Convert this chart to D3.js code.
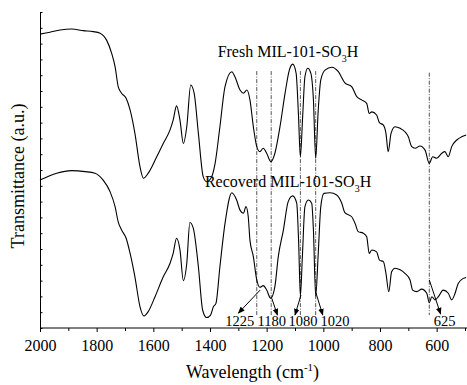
<!DOCTYPE html>
<html>
<head>
<meta charset="utf-8">
<script src="https://cdn.jsdelivr.net/npm/d3@7"></script>
<style>
  body { margin: 0; background: #fff; }
  svg text { font-family: "Liberation Serif", "Times New Roman", serif !important; fill: #000; }
</style>
</head>
<body>
<div class="chart"></div>
<script>
// wavenumber (cm-1) and transmittance (a.u.)
const freshWave = [2000,1965,1929,1888,1847,1812,1788,1765,1747,1735,1724,1712,1696,1682,1665,1647,1635,1618,1588,1565,1541,1530,1518,1506,1494,1482,1468,1456,1441,1424,1412,1394,1382,1365,1347,1323,1312,1294,1282,1270,1259,1247,1235,1224,1212,1200,1185,1171,1153,1135,1120,1108,1096,1088,1081,1073,1065,1055,1044,1035,1027,1018,1009,994,970,947,924,900,882,865,847,838,829,812,802,788,779,771,761,747,729,712,700,688,676,659,641,626,614,600,582,571,559,547,529,512,496]
const freshVal = [93.0,93.6,94.3,94.6,94.1,93.8,93.3,91.1,86.9,82.7,76.4,74.3,72.7,69.0,61.6,51.0,47.4,49.0,54.2,58.4,62.7,65.8,70.3,65.8,58.4,63.7,76.9,74.3,61.6,47.9,46.3,47.9,52.1,63.7,76.4,81.1,79.5,75.3,74.3,75.3,72.2,63.7,57.4,55.8,56.9,55.3,52.6,55.3,63.7,74.3,81.6,83.5,80.6,67.9,54.2,66.9,79.5,82.2,80.6,72.2,53.7,69.0,78.5,81.6,82.5,81.1,77.6,76.4,73.2,72.2,71.1,67.9,68.4,67.4,65.0,64.2,61.6,55.8,61.6,63.7,63.2,62.1,60.5,57.4,56.9,57.6,56.3,52.1,54.2,53.7,55.3,55.8,54.2,57.4,59.5,60.5,61.1]

const recovWave = [2000,1941,1888,1841,1806,1777,1753,1735,1724,1712,1696,1682,1665,1647,1633,1618,1594,1565,1541,1530,1518,1506,1494,1482,1471,1459,1441,1426,1412,1398,1388,1379,1365,1347,1323,1306,1294,1282,1273,1265,1259,1247,1235,1224,1212,1200,1186,1171,1159,1141,1124,1108,1094,1087,1081,1074,1065,1053,1041,1035,1027,1018,1009,998,976,953,935,924,900,888,877,859,847,838,829,812,802,788,779,769,759,747,729,712,694,685,670,653,635,626,617,606,594,577,559,547,535,524,506,496]
const recovVal = [46.8,49.0,49.8,49.5,49.0,46.8,43.2,38.4,33.6,31.0,28.4,23.6,16.2,6.7,3.8,5.2,9.9,16.2,20.5,23.6,28.4,24.7,15.0,20.5,33.4,31.6,19.4,5.7,3.3,4.1,6.7,7.8,19.4,33.1,42.8,40.5,37.3,36.3,38.4,35.2,27.8,22.6,15.2,12.9,13.4,12.0,9.4,13.1,22.6,31.0,40.0,41.8,39.5,26.8,10.1,22.6,38.4,40.5,39.5,31.0,10.1,23.6,38.4,42.6,42.8,42.1,39.5,36.5,35.2,33.1,30.5,30.0,28.9,23.6,24.7,24.1,21.5,21.0,17.3,11.5,17.8,18.9,18.4,17.3,15.2,12.0,11.5,12.3,11.0,8.0,9.9,8.9,9.9,12.0,11.0,8.9,11.0,14.1,15.7,16.0]

// x positions of the dash-dot guide lines and their labels
const peakLines = [1235, 1184, 1081, 1027, 626]
const peakLabels = ["1225", "1180", "1080", "1020", "625"]
const labelWave = [1295, 1182, 1072, 959, 572]
// arrows: [fromWave, fromVal, toWave, toVal]
const arrows = [
  [1223, 12.0, 1300, 4.7],
  [1182, 9.4, 1162, 4.1],
  [1079, 10.4, 1100, 4.1],
  [1026, 11.1, 1002, 4.1],
  [626, 15.2, 586, 4.4]
]
const majorTicks = [2000, 1800, 1600, 1400, 1200, 1000, 800, 600]
const minorTicks = [1900, 1700, 1500, 1300, 1100, 900, 700, 500]
const yTicks = d3.range(0, 101, 5)

const width = 467, height = 385
const margin = { top: 12, right: 2, bottom: 57, left: 40 }
const serif = '"Liberation Serif", "Times New Roman", serif'

const svg = d3.select(".chart").append("svg")
  .attr("width", width)
  .attr("height", height)

const x = d3.scaleLinear().domain([2000, 500]).range([margin.left, 465])
const y = d3.scaleLinear().domain([0, 100]).range([height - margin.bottom, margin.top])

svg.append("defs").append("marker")
  .attr("id", "arrow")
  .attr("viewBox", "0 0 10 10")
  .attr("refX", 9).attr("refY", 5)
  .attr("markerWidth", 7).attr("markerHeight", 7)
  .attr("markerUnits", "userSpaceOnUse")
  .attr("orient", "auto")
  .append("path")
  .attr("d", "M0,1 L10,5 L0,9 z")
  .attr("fill", "#000")

// axes
const xAxis = svg.append("g")
  .attr("transform", "translate(0," + y(0) + ")")
  .call(d3.axisBottom(x).tickValues(majorTicks).tickSize(4).tickSizeOuter(0).tickPadding(8).tickFormat(d3.format("d")))
xAxis.attr("font-family", serif)
xAxis.select(".domain").attr("d", "M" + margin.left + ",0H" + width)
xAxis.selectAll("text").style("font-size", "16px").style("font-family", serif)

svg.append("g")
  .attr("transform", "translate(0," + y(0) + ")")
  .call(d3.axisBottom(x).tickValues(minorTicks).tickSize(3).tickFormat(""))
  .select(".domain").remove()

svg.append("g")
  .attr("transform", "translate(" + margin.left + ",0)")
  .call(d3.axisLeft(y).tickValues(yTicks).tickSize(-2.5).tickSizeOuter(0).tickFormat(""))

svg.selectAll(".domain, .tick line").attr("stroke", "#000").attr("stroke-width", 1)

// guide lines
svg.selectAll(".guide")
  .data(peakLines)
  .enter().append("line")
  .attr("class", "guide")
  .attr("x1", d => x(d)).attr("x2", d => x(d))
  .attr("y1", (d, i) => y(i === 4 ? 80.8 : 81.3))
  .attr("y2", y(4.1))
  .attr("stroke", "#444")
  .attr("stroke-width", 0.9)
  .attr("stroke-dasharray", "4,1.5,1,1.5")

// spectra
const line = d3.line()
  .x(d => x(d[0]))
  .y(d => y(d[1]))
  .curve(d3.curveMonotoneX)

const fresh = freshWave.map((w, i) => [w, freshVal[i]]).reverse()
const recov = recovWave.map((w, i) => [w, recovVal[i]]).reverse()

svg.selectAll(".spectrum")
  .data([fresh, recov])
  .enter().append("path")
  .attr("class", "spectrum")
  .attr("d", line)
  .attr("fill", "none")
  .attr("stroke", "#000")
  .attr("stroke-width", 1.1)

// arrows
svg.selectAll(".arrow")
  .data(arrows)
  .enter().append("line")
  .attr("class", "arrow")
  .attr("x1", d => x(d[0])).attr("y1", d => y(d[1]))
  .attr("x2", d => x(d[2])).attr("y2", d => y(d[3]))
  .attr("stroke", "#000")
  .attr("stroke-width", 1)
  .attr("marker-end", "url(#arrow)")

svg.selectAll(".peakLabel")
  .data(peakLabels)
  .enter().append("text")
  .attr("class", "peakLabel")
  .attr("x", (d, i) => x(labelWave[i]))
  .attr("y", y(0.6))
  .attr("text-anchor", "middle")
  .style("font-family", serif)
  .style("font-size", "14.5px")
  .text(d => d)

// sample names
function sampleLabel(w, v, name) {
  const t = svg.append("text")
    .attr("x", x(w)).attr("y", y(v))
    .style("font-family", serif)
    .style("font-size", "16px")
  t.append("tspan").text(name + " MIL-101-SO")
  t.append("tspan").attr("dy", 5).style("font-size", "10px").text("3")
  t.append("tspan").attr("dy", -5).text("H")
}
sampleLabel(1373, 85.9, "Fresh")
sampleLabel(1418, 44.7, "Recoverd")

// axis titles
const xt = svg.append("text")
  .attr("x", (x(2000) + x(500)) / 2)
  .attr("y", 378)
  .attr("text-anchor", "middle")
  .style("font-family", serif)
  .style("font-size", "18px")
xt.append("tspan").text("Wavelength (cm")
xt.append("tspan").attr("dy", -7).style("font-size", "11px").text("-1")
xt.append("tspan").attr("dy", 7).text(")")

svg.append("text")
  .attr("transform", "translate(24," + (y(50) + 6) + ") rotate(-90)")
  .attr("text-anchor", "middle")
  .style("font-family", serif)
  .style("font-size", "18px")
  .text("Transmittance (a.u.)")
</script>
</body>
</html>
